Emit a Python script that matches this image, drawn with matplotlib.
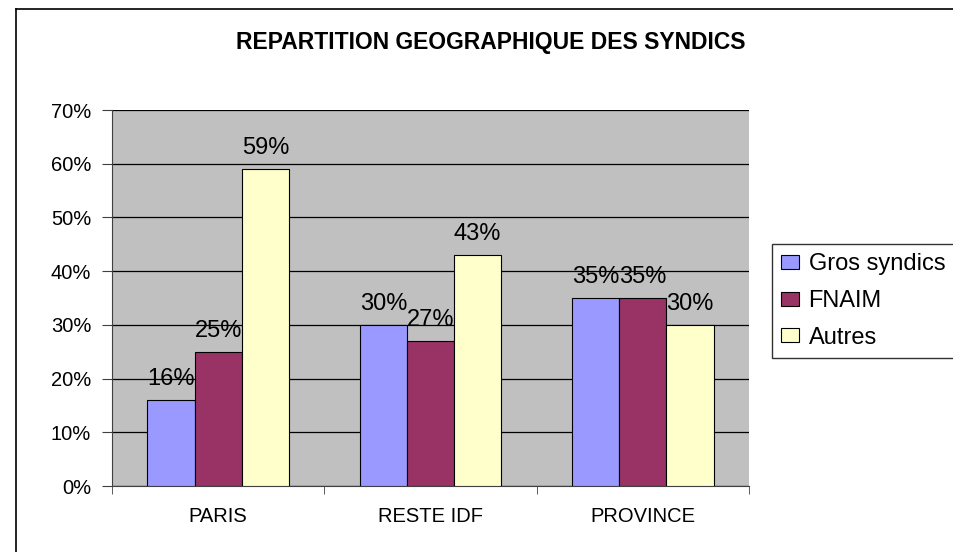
import matplotlib
matplotlib.use("Agg")
import matplotlib.pyplot as plt
from matplotlib.lines import Line2D
import numpy as np

categories = ["PARIS", "RESTE IDF", "PROVINCE"]
series_names = ["Gros syndics", "FNAIM", "Autres"]
gros = [16, 30, 35]
fnaim = [25, 27, 35]
autres = [59, 43, 30]
yticks = [0, 10, 20, 30, 40, 50, 60, 70]
colors = ["#9999FF", "#993366", "#FFFFCC"]

plt.rcParams['font.family'] = ['Liberation Sans', 'DejaVu Sans']

W, H = 954, 552
fig = plt.figure(figsize=(W / 100, H / 100), dpi=100)
ax = fig.add_axes([112 / W, 1 - 486 / H, (749 - 112) / W, (486 - 110) / H])
ax.set_facecolor("#C0C0C0")

x = np.arange(len(categories))
bw = 0.222
for i, (vals, c, name) in enumerate(zip([gros, fnaim, autres], colors, series_names)):
    pos = x + (i - 1) * bw
    ax.bar(pos, vals, width=bw, color=c, edgecolor="black", linewidth=0.8,
           label=name, zorder=3)
    for p, v in zip(pos, vals):
        ax.annotate(f"{v}%", (p, v), xytext=(0, 7), textcoords="offset points",
                    ha="center", va="bottom", fontsize=17, zorder=4)

ax.set_xlim(-0.5, len(categories) - 0.5)
ax.set_ylim(0, 70)
ax.set_yticks(yticks)
ax.set_yticklabels([f"{t}%" for t in yticks], fontsize=14.5)
ax.yaxis.grid(True, color="black", linewidth=0.9, zorder=1)
ax.set_axisbelow(True)
ax.set_xticks(x)
ax.set_xticklabels(categories, fontsize=14.5)
ax.tick_params(axis="x", length=0, pad=15)
ax.set_xticks(np.arange(len(categories) + 1) - 0.5, minor=True)
ax.tick_params(axis="x", which="minor", length=6, direction="out", color="#404040")
ax.tick_params(axis="y", length=7, direction="out", color="#404040", pad=8)
for s in ["top", "right"]:
    ax.spines[s].set_visible(False)
ax.spines["left"].set_color("#404040")
ax.spines["bottom"].set_color("#404040")

fig.text(491 / W, 1 - 42 / H, "REPARTITION GEOGRAPHIQUE DES SYNDICS",
         ha="center", va="center", fontsize=16.5, fontweight="bold")

leg = fig.legend(loc="upper left", bbox_to_anchor=(772 / W, 1 - 244 / H),
                 fontsize=17, frameon=True, fancybox=False, edgecolor="black",
                 handlelength=0.75, handleheight=0.55, handletextpad=0.4,
                 labelspacing=0.62, borderpad=0.4, borderaxespad=0)
leg.get_frame().set_linewidth(1.0)
for h in leg.legend_handles:
    h.set_linewidth(0.8)

fig.add_artist(Line2D([16 / W, 16 / W], [0, 1 - 9 / H], transform=fig.transFigure,
                      color="black", linewidth=1.2))
fig.add_artist(Line2D([16 / W, 1], [1 - 9 / H, 1 - 9 / H], transform=fig.transFigure,
                      color="black", linewidth=1.2))

fig.savefig("out.png", dpi=100)
